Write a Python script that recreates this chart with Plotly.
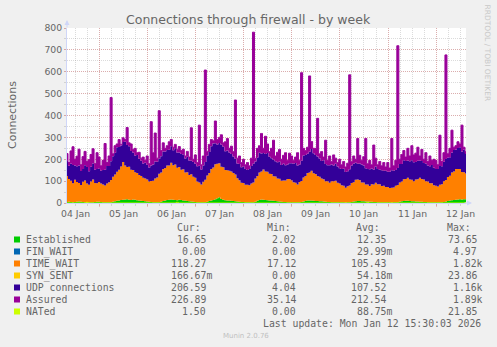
import numpy as np
import pandas as pd
import plotly.graph_objects as go

# ---------------- data (hourly values) ----------------
START = "2026-01-04 07:53"
N_POINTS = 200
TIMES = pd.date_range(START, periods=N_POINTS, freq="h")

ESTABLISHED = [
    5, 6, 5, 4, 5, 6, 7, 6, 5, 4, 4, 3, 3, 4, 5, 6,
    6, 5, 4, 4, 3, 3, 4, 6, 8, 10, 12, 14, 15, 16, 17, 15, 14, 16, 15, 13, 12, 10, 9, 8,
    7, 6, 5, 4, 4, 3, 4, 6, 9, 12, 14, 15, 16, 15, 14, 13, 15, 14, 12, 11, 9, 8, 7, 6,
    5, 4, 4, 3, 3, 4, 6, 9, 12, 14, 17, 22, 26, 18, 15, 13, 12, 11, 10, 9, 8, 7, 6, 5,
    5, 4, 3, 3, 3, 4, 6, 10, 14, 16, 15, 14, 13, 12, 11, 10, 9, 8, 7, 6, 5, 5, 4, 4,
    4, 3, 3, 3, 4, 5, 7, 9, 11, 12, 11, 10, 9, 9, 8, 8, 7, 6, 5, 5, 4, 4, 4, 3,
    3, 3, 3, 2, 3, 4, 5, 7, 8, 9, 9, 8, 8, 7, 7, 6, 6, 5, 5, 4, 4, 4, 3, 3,
    3, 3, 2, 3, 3, 4, 6, 8, 9, 10, 10, 9, 8, 8, 7, 7, 6, 6, 5, 5, 4, 4, 4, 3,
    3, 3, 3, 4, 5, 7, 9, 11, 13, 14, 15, 16, 17, 16, 17, 16.65,
]
FIN_WAIT = [
    0, 0, 0, 0, 0, 0, 0, 0, 0, 0, 0, 0, 0, 0, 0, 0,
    0, 0, 0, 0, 0, 0, 0, 0, 0, 0, 0, 0, 0, 0, 0, 0, 0, 0, 0, 0, 0, 0, 0, 0,
    0, 0, 0, 0, 0, 0, 0, 0, 0, 0, 0, 0, 0, 0, 0, 0, 0, 0, 0, 0, 0, 0, 0, 0,
    0, 0, 0, 0, 0, 0, 0, 0, 0, 0, 0, 0, 0, 0, 0, 0, 0, 0, 0, 0, 0, 0, 0, 0,
    0, 0, 0, 0, 0, 0, 0, 0, 0, 0, 0, 0, 0, 0, 0, 0, 0, 0, 0, 0, 0, 0, 0, 0,
    0, 0, 0, 0, 0, 0, 0, 0, 0, 0, 0, 0, 0, 0, 0, 0, 0, 0, 0, 0, 0, 0, 0, 0,
    0, 0, 0, 0, 0, 0, 0, 0, 0, 0, 0, 0, 0, 0, 0, 0, 0, 0, 0, 0, 0, 0, 0, 0,
    0, 0, 0, 0, 0, 0, 0, 0, 0, 0, 0, 0, 0, 0, 0, 0, 0, 0, 0, 0, 0, 0, 0, 0,
    0, 0, 0, 0, 0, 0, 0, 0, 0, 0, 0, 0, 0, 0, 0, 0,
]
TIME_WAIT = [
    118, 104, 97, 86, 101, 90, 84, 76, 92, 99, 85, 80, 95, 103, 87, 84,
    90, 84, 81, 76, 86, 92, 101, 114, 122, 133, 140, 153, 172, 156, 148, 151, 138, 135, 126, 124, 116, 113, 106, 104,
    100, 92, 96, 98, 108, 114, 130, 134, 146, 148, 158, 156, 168, 158, 162, 148, 150, 138, 142, 128, 132, 120, 124, 114,
    110, 94, 90, 82, 94, 102, 120, 128, 144, 148, 160, 158, 156, 148, 148, 138, 138, 136, 134, 128, 122, 106, 98, 88,
    86, 80, 80, 78, 86, 90, 106, 114, 126, 128, 138, 130, 130, 122, 122, 112, 112, 104, 104, 96, 98, 98, 106, 106,
    100, 92, 90, 82, 92, 96, 110, 114, 126, 128, 136, 126, 124, 114, 112, 104, 102, 94, 94, 88, 96, 96, 98, 90,
    86, 78, 76, 68, 74, 76, 86, 88, 98, 98, 96, 86, 86, 78, 78, 72, 80, 80, 88, 82, 82, 74, 76, 70,
    70, 66, 68, 68, 76, 78, 88, 90, 100, 100, 106, 98, 98, 92, 100, 102, 110, 104, 102, 94, 94, 86, 86, 78,
    76, 72, 80, 82, 94, 98, 110, 114, 126, 130, 140, 140, 138, 126, 124, 118.27,
]
SYN_SENT = [
    0, 0, 0, 0, 0, 0, 0, 0, 0, 0, 0, 0, 0, 0, 0, 0,
    0, 0, 0, 0, 0, 0, 0, 0, 0, 0, 0, 0, 0, 0, 0, 0, 0, 0, 0, 0, 0, 0, 0, 0,
    0, 0, 0, 0, 0, 0, 0, 0, 0, 0, 0, 0, 0, 0, 0, 0, 0, 0, 0, 0, 0, 0, 0, 0,
    0, 0, 0, 0, 0, 0, 0, 0, 0, 0, 0, 0, 0, 0, 0, 0, 0, 0, 0, 0, 0, 0, 0, 0,
    0, 0, 0, 0, 0, 0, 0, 0, 0, 0, 0, 0, 0, 0, 0, 0, 0, 0, 0, 0, 0, 0, 0, 0,
    0, 0, 0, 0, 0, 0, 0, 0, 0, 0, 0, 0, 0, 0, 0, 0, 0, 0, 0, 0, 0, 0, 0, 0,
    0, 0, 0, 0, 0, 0, 0, 0, 0, 0, 0, 0, 0, 0, 0, 0, 0, 0, 0, 0, 0, 0, 0, 0,
    0, 0, 0, 0, 0, 0, 0, 0, 0, 0, 0, 0, 0, 0, 0, 0, 0, 0, 0, 0, 0, 0, 0, 0,
    0, 0, 0, 0, 0, 0, 0, 0, 0, 0, 0, 0, 0, 0, 0, 0.17,
]
UDP = [
    70, 60, 78, 84, 66, 72, 80, 64, 58, 70, 76, 62, 68, 74, 60, 66,
    62, 58, 66, 72, 80, 74, 86, 94, 100, 112, 104, 96, 92, 108, 100, 94, 86, 80, 76, 82, 74, 70, 66, 72,
    68, 64, 70, 74, 78, 72, 68, 74, 80, 76, 70, 72, 76, 68, 74, 70, 66, 72, 68, 64, 70, 66, 62, 68,
    64, 70, 76, 68, 74, 82, 90, 96, 104, 110, 96, 88, 92, 100, 94, 86, 90, 84, 80, 76, 72, 68, 74, 70,
    76, 72, 68, 74, 80, 86, 78, 84, 90, 82, 76, 80, 86, 78, 72, 76, 70, 74, 78, 72, 76, 70, 66, 72,
    78, 84, 90, 86, 80, 92, 100, 96, 88, 94, 100, 92, 86, 90, 84, 80, 86, 78, 74, 80, 76, 72, 78, 74,
    70, 74, 78, 72, 68, 74, 80, 84, 78, 72, 76, 82, 78, 74, 70, 76, 72, 68, 74, 70, 66, 72, 68, 74,
    70, 74, 80, 76, 72, 78, 84, 80, 86, 82, 78, 84, 90, 86, 80, 84, 78, 82, 76, 80, 74, 78, 84, 80,
    76, 80, 86, 82, 90, 96, 88, 84, 92, 98, 90, 96, 100, 94, 104, 100,
]
ASSURED = [
    226, 185, 238, 257, 200, 214, 246, 175, 212, 236, 190, 198, 222, 248, 180, 230,
    210, 170, 195, 272, 185, 215, 482, 225, 262, 270, 290, 268, 298, 290, 345, 275, 270, 245, 250, 230, 232, 205, 210, 195,
    215, 180, 372, 230, 320, 205, 422, 240, 275, 250, 262, 280, 290, 255, 268, 245, 258, 240, 246, 215, 236, 210, 344, 200,
    220, 185, 356, 175, 215, 608, 235, 268, 290, 285, 375, 290, 300, 312, 275, 280, 295, 250, 260, 235, 471, 205, 215, 185,
    200, 175, 185, 170, 205, 781, 205, 250, 262, 318, 250, 305, 270, 235, 250, 287, 215, 232, 245, 200, 218, 230, 195, 228,
    215, 195, 210, 230, 195, 596, 250, 240, 255, 581, 281, 250, 250, 387, 225, 235, 210, 287, 195, 215, 190, 220, 205, 185,
    200, 175, 190, 165, 182, 586, 190, 215, 200, 295, 218, 195, 212, 295, 180, 195, 175, 265, 205, 175, 190, 170, 185, 165,
    185, 160, 295, 170, 195, 719, 200, 222, 240, 210, 250, 215, 262, 220, 228, 255, 215, 245, 200, 230, 190, 215, 195, 200,
    195, 175, 310, 190, 230, 677, 225, 250, 333, 255, 262, 280, 270, 356, 255, 226.89,
]
NATED = [
    0, 0, 0, 0, 0, 0, 0, 0, 0, 0, 3, 0, 0, 0, 0, 0,
    0, 0, 0, 0, 0, 0, 0, 0, 0, 0, 0, 0, 0, 0, 0, 0, 0, 0, 0, 0, 0, 0, 0, 0,
    0, 0, 0, 0, 0, 0, 0, 0, 0, 0, 0, 0, 0, 0, 0, 3, 0, 0, 0, 0, 0, 0, 0, 0,
    0, 0, 0, 0, 0, 0, 0, 0, 0, 0, 0, 0, 0, 0, 0, 0, 0, 0, 0, 0, 0, 0, 0, 0,
    0, 0, 0, 0, 0, 0, 0, 0, 0, 0, 0, 0, 0, 0, 0, 0, 0, 0, 0, 0, 0, 0, 0, 0,
    0, 0, 0, 0, 0, 0, 0, 0, 0, 0, 0, 0, 0, 0, 0, 0, 0, 0, 0, 0, 0, 0, 0, 0,
    0, 0, 0, 0, 0, 0, 0, 0, 0, 0, 0, 0, 0, 0, 2, 0, 0, 0, 0, 0, 0, 0, 0, 0,
    0, 0, 0, 0, 0, 0, 0, 0, 0, 0, 0, 0, 0, 0, 0, 0, 0, 0, 0, 0, 0, 0, 0, 0,
    0, 0, 0, 0, 0, 0, 0, 0, 0, 0, 0, 0, 0, 0, 0, 1.5,
]

SERIES_NAMES = ["Established", "FIN_WAIT", "TIME_WAIT", "SYN_SENT",
                "UDP connections", "Assured", "NATed"]
SERIES_COLORS = ["#00CC00", "#0066B3", "#FF8000", "#FFCC00",
                 "#330099", "#990099", "#CCFF00"]
CUR = ["16.65", "0.00", "118.27", "166.67m", "206.59", "226.89", "1.50"]
MIN = ["2.02", "0.00", "17.12", "0.00", "4.04", "35.14", "0.00"]
AVG = ["12.35", "29.99m", "105.43", "54.18m", "107.52", "212.54", "88.75m"]
MAX = ["73.65", "4.97", "1.82k", "23.86", "1.16k", "1.89k", "21.85"]

DAY_TICKS = ["2026-01-05", "2026-01-06", "2026-01-07", "2026-01-08",
             "2026-01-09", "2026-01-10", "2026-01-11", "2026-01-12"]
DAY_LABEL_POS = ["2026-01-04 12:00", "2026-01-05 12:00", "2026-01-06 12:00",
                 "2026-01-07 12:00", "2026-01-08 12:00", "2026-01-09 12:00",
                 "2026-01-10 12:00", "2026-01-11 12:00", "2026-01-12 12:00"]
DAY_LABELS = ["04 Jan", "05 Jan", "06 Jan", "07 Jan", "08 Jan",
              "09 Jan", "10 Jan", "11 Jan", "12 Jan"]
Y_TICKS = [0, 100, 200, 300, 400, 500, 600, 700, 800]

TITLE = "Connections through firewall - by week"
Y_TITLE = "Connections"
WATERMARK = "RRDTOOL / TOBI OETIKER"
LAST_UPDATE = "Last update: Mon Jan 12 15:30:03 2026"
VERSION = "Munin 2.0.76"

for arr in (ESTABLISHED, FIN_WAIT, TIME_WAIT, SYN_SENT, UDP, ASSURED, NATED):
    assert len(arr) == N_POINTS, len(arr)

# ---------------- styling ----------------
W, H = 497, 347
L, R, T, B = 67, 31, 28, 144
PW, PH = W - L - R, H - T - B
FONT = "#666666"
AXIS = "#CFD6F8"
MGRID = "rgba(222,79,79,0.32)"
GRID = "rgba(143,143,143,0.32)"
DASH = "1px,1px"


def px(x):
    return (x - L) / PW


def py(y):
    return (H - B - y) / PH


fig = go.Figure()

stack_parts = [ESTABLISHED, FIN_WAIT, TIME_WAIT, SYN_SENT, UDP]
cum = np.cumsum(np.array(stack_parts, dtype=float), axis=0)
for i in range(5):
    fig.add_trace(go.Scatter(
        x=TIMES, y=cum[i], mode="lines",
        line=dict(width=0, shape="hvh", color=SERIES_COLORS[i]),
        fill="tozeroy" if i == 0 else "tonexty",
        fillcolor=SERIES_COLORS[i], hoverinfo="skip", showlegend=False))

fig.add_trace(go.Scatter(
    x=TIMES, y=ASSURED, mode="lines",
    line=dict(width=1, shape="hvh", color=SERIES_COLORS[5]),
    fill="tonexty", fillcolor=SERIES_COLORS[5],
    hoverinfo="skip", showlegend=False))

fig.add_trace(go.Scatter(
    x=TIMES, y=NATED, mode="lines",
    line=dict(width=1, shape="hvh", color=SERIES_COLORS[6]),
    hoverinfo="skip", showlegend=False))

ann = []
ann.append(dict(text=TITLE, x=px(248.5), y=py(19.5), xref="paper", yref="paper",
                showarrow=False, xanchor="center", yanchor="middle",
                font=dict(family="DejaVu Sans", size=12.5, color=FONT)))
ann.append(dict(text=Y_TITLE, x=px(12), y=py(115), xref="paper", yref="paper",
                showarrow=False, textangle=-90, xanchor="center", yanchor="middle",
                font=dict(family="DejaVu Sans", size=11, color=FONT)))
ann.append(dict(text=WATERMARK, x=px(487.5), y=py(53), xref="paper", yref="paper",
                showarrow=False, textangle=90, xanchor="center", yanchor="middle",
                font=dict(family="DejaVu Sans", size=7.5, color="#C8C8C8")))
for pos, lab in zip(DAY_LABEL_POS, DAY_LABELS):
    ann.append(dict(text=lab, x=pos, y=py(213.5), xref="x", yref="paper",
                    showarrow=False, xanchor="center", yanchor="middle",
                    font=dict(family="DejaVu Sans", size=9.3, color=FONT)))

MONO = dict(family="DejaVu Sans Mono", size=9.8, color=FONT)


def text_at(txt, x, y, anchor):
    ann.append(dict(text=txt, x=px(x), y=py(y), xref="paper", yref="paper",
                    showarrow=False, xanchor=anchor, yanchor="middle",
                    borderpad=0, borderwidth=0, font=MONO))


for head, hx in zip(["Cur:", "Min:", "Avg:", "Max:"], [177, 267, 356, 447]):
    text_at(head, hx, 227.5, "left")

shapes = []
for k, name in enumerate(SERIES_NAMES):
    ry = 239.5 + 12 * k
    shapes.append(dict(type="rect", xref="paper", yref="paper",
                       x0=px(14), x1=px(20), y0=py(ry + 3), y1=py(ry - 3),
                       fillcolor=SERIES_COLORS[k], line=dict(width=0)))
    text_at(name, 26, ry, "left")
    for vals, rx in zip([CUR, MIN, AVG, MAX], [212, 302, 392, 483]):
        v = vals[k]
        if not v[-1].isalpha():
            v = v + "\u00a0"
        text_at(v, rx, ry, "right")

text_at(LAST_UPDATE, 263, 323.5, "left")
ann.append(dict(text=VERSION, x=px(245.5), y=py(336), xref="paper", yref="paper",
                showarrow=False, xanchor="center", yanchor="middle",
                font=dict(family="DejaVu Sans", size=7, color="#C0C0C0")))

ann.append(dict(text="", x=px(67), y=py(20), xref="paper", yref="paper",
                showarrow=True, ax=0, ay=9, arrowhead=2, arrowsize=1,
                arrowwidth=1, arrowcolor=AXIS))
ann.append(dict(text="", x=px(472), y=py(203), xref="paper", yref="paper",
                showarrow=True, ax=-9, ay=0, arrowhead=2, arrowsize=1,
                arrowwidth=1, arrowcolor=AXIS))

fig.update_layout(
    width=W, height=H, autosize=False,
    margin=dict(l=L, r=R, t=T, b=B, pad=0),
    paper_bgcolor="#F0F0F0", plot_bgcolor="#FFFFFF",
    showlegend=False,
    annotations=ann, shapes=shapes,
    xaxis=dict(
        type="date", range=[TIMES[0], TIMES[-1]],
        tickmode="array", tickvals=DAY_TICKS, showticklabels=False,
        ticks="outside", ticklen=3, tickcolor=MGRID,
        showgrid=True, gridcolor=MGRID, griddash=DASH, gridwidth=1,
        showline=True, linecolor=AXIS, linewidth=1, zeroline=False,
        minor=dict(tickmode="linear", tick0="2026-01-04 00:00",
                   dtick=6 * 3600 * 1000, showgrid=True, gridcolor=GRID,
                   griddash=DASH, gridwidth=1, ticks="outside", ticklen=2,
                   tickcolor=GRID),
        fixedrange=True,
    ),
    yaxis=dict(
        range=[0, 800], tickmode="array", tickvals=Y_TICKS,
        ticktext=[str(v) for v in Y_TICKS],
        tickfont=dict(family="DejaVu Sans", size=9.3, color=FONT),
        ticks="outside", ticklen=2, tickcolor=MGRID,
        showgrid=True, gridcolor=MGRID, griddash=DASH, gridwidth=1,
        showline=True, linecolor=AXIS, linewidth=1, zeroline=False,
        minor=dict(tickmode="linear", tick0=0, dtick=50, showgrid=True,
                   gridcolor=GRID, griddash=DASH, gridwidth=1,
                   ticks="outside", ticklen=2, tickcolor=GRID),
        fixedrange=True,
    ),
)

fig.write_html("out.html")
